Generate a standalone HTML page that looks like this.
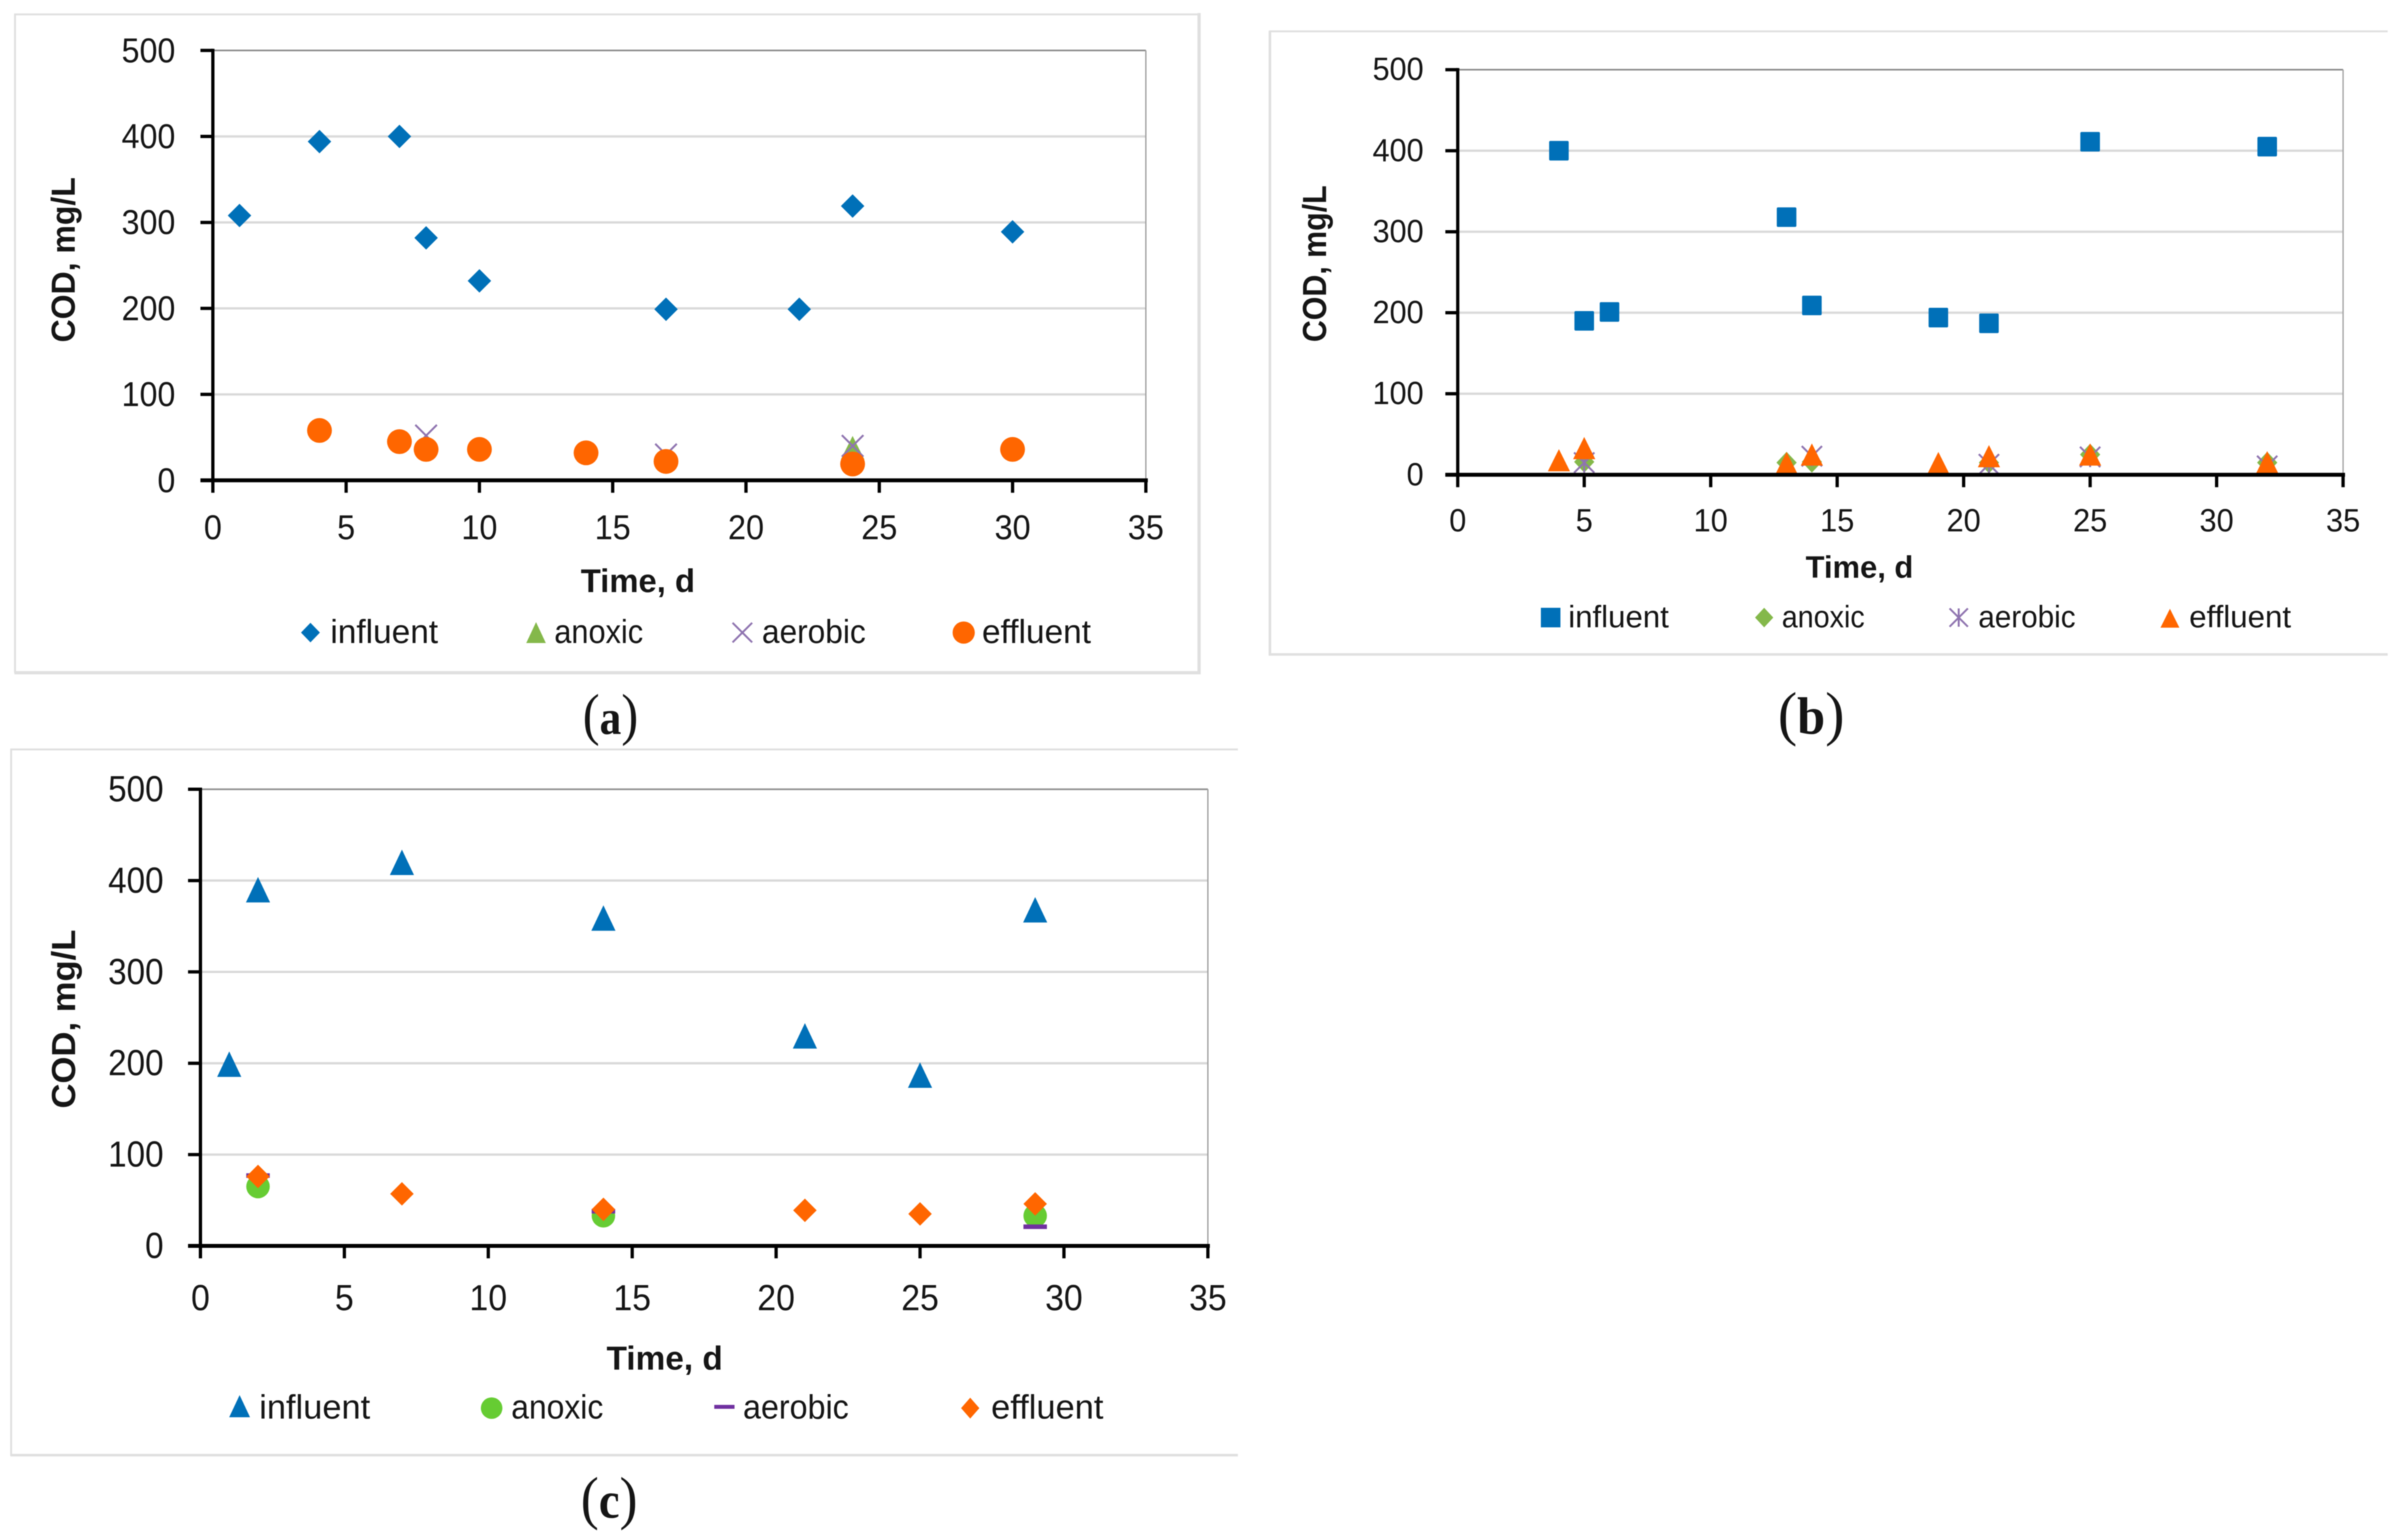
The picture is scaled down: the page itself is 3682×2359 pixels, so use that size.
<!DOCTYPE html>
<html lang="en">
<head>
<meta charset="utf-8">
<title>COD over time</title>
<style>
  html, body { margin: 0; padding: 0; background: #fff; }
  svg { display: block; filter: blur(0.7px); }
  text { font-family: "Liberation Sans", sans-serif; fill: #151515; }
  .cap { font-family: "Liberation Serif", serif; }
  .frame { fill: none; stroke: #e0e0e0; }
</style>
</head>
<body>
<svg id="root" xmlns="http://www.w3.org/2000/svg" width="3682" height="2359" viewBox="0 0 3682 2359">
  <rect x="0" y="0" width="3682" height="2359" fill="#ffffff"/>

  <!-- Panel frames -->
  <g>
    <line class="frame" x1="23" y1="21" x2="23" y2="1031" stroke-width="3"/>
    <line class="frame" x1="22" y1="22" x2="1838" y2="22" stroke-width="3"/>
    <line class="frame" x1="1836.5" y1="20" x2="1836.5" y2="1033" stroke-width="5"/>
    <line class="frame" x1="22" y1="1030.5" x2="1839" y2="1030.5" stroke-width="5"/>
  </g>
  <g>
    <line class="frame" x1="1945" y1="47" x2="1945" y2="1004" stroke-width="4"/>
    <line class="frame" x1="1944" y1="48" x2="3657" y2="48" stroke-width="3"/>
    <line class="frame" x1="1943" y1="1002.5" x2="3657" y2="1002.5" stroke-width="4"/>
  </g>
  <g>
    <line class="frame" x1="17" y1="1147" x2="17" y2="2230" stroke-width="3"/>
    <line class="frame" x1="16" y1="1148" x2="1896" y2="1148" stroke-width="3"/>
    <line class="frame" x1="16" y1="2229" x2="1896" y2="2229" stroke-width="4"/>
  </g>

  <g id="chart-a"></g>
  <g id="chart-b"></g>
  <g id="chart-c"></g>

  <!-- Axis titles -->
  <text x="977" y="907" text-anchor="middle" font-size="50" font-weight="700" textLength="175" lengthAdjust="spacingAndGlyphs">Time, d</text>
  <text transform="translate(114.5 398) rotate(-90)" text-anchor="middle" font-size="51" font-weight="700" textLength="253" lengthAdjust="spacingAndGlyphs">COD, mg/L</text>
  <text x="2848" y="885" text-anchor="middle" font-size="47" font-weight="700" textLength="165" lengthAdjust="spacingAndGlyphs">Time, d</text>
  <text transform="translate(2031 404) rotate(-90)" text-anchor="middle" font-size="51" font-weight="700" textLength="240" lengthAdjust="spacingAndGlyphs">COD, mg/L</text>
  <text x="1018" y="2098" text-anchor="middle" font-size="51" font-weight="700" textLength="178" lengthAdjust="spacingAndGlyphs">Time, d</text>
  <text transform="translate(115 1561) rotate(-90)" text-anchor="middle" font-size="51" font-weight="700" textLength="274" lengthAdjust="spacingAndGlyphs">COD, mg/L</text>

  <!-- Legend a -->
  <g>
    <g>
      <polygon points="475.5,954 490,969 475.5,984 461,969" fill="#0070b8"/>
      <text x="506" y="985" font-size="51" textLength="165" lengthAdjust="spacingAndGlyphs">influent</text>
    </g>
    <g>
      <polygon points="821,953 836,985 806,985" fill="#84b84a"/>
      <text x="849" y="985" font-size="51" textLength="136" lengthAdjust="spacingAndGlyphs">anoxic</text>
    </g>
    <g>
      <path d="M1122,954 L1152,984 M1152,954 L1122,984" stroke="#8f74b0" stroke-width="3" fill="none"/>
      <text x="1167" y="985" font-size="51" textLength="159" lengthAdjust="spacingAndGlyphs">aerobic</text>
    </g>
    <g>
      <circle cx="1476" cy="969" r="17" fill="#ff6600"/>
      <text x="1504" y="985" font-size="51" textLength="167" lengthAdjust="spacingAndGlyphs">effluent</text>
    </g>
  </g>

  <!-- Legend b -->
  <g>
    <g>
      <rect x="2360" y="931" width="30" height="30" fill="#0070b8"/>
      <text x="2402" y="961" font-size="47" textLength="154" lengthAdjust="spacingAndGlyphs">influent</text>
    </g>
    <g>
      <polygon points="2702,931 2716,946 2702,961 2688,946" fill="#84b84a"/>
      <text x="2729" y="961" font-size="47" textLength="127" lengthAdjust="spacingAndGlyphs">anoxic</text>
    </g>
    <g>
      <path d="M2986,932 L3014,960 M3014,932 L2986,960 M3000,932 L3000,960" stroke="#8f74b0" stroke-width="3" fill="none"/>
      <text x="3030" y="961" font-size="47" textLength="149" lengthAdjust="spacingAndGlyphs">aerobic</text>
    </g>
    <g>
      <polygon points="3323.5,932.5 3338,961.5 3309,961.5" fill="#ff6600"/>
      <text x="3353" y="961" font-size="47" textLength="156" lengthAdjust="spacingAndGlyphs">effluent</text>
    </g>
  </g>

  <!-- Legend c -->
  <g>
    <g>
      <polygon points="367,2137 383,2171 351,2171" fill="#0070b8"/>
      <text x="397" y="2173" font-size="52" textLength="170" lengthAdjust="spacingAndGlyphs">influent</text>
    </g>
    <g>
      <circle cx="753" cy="2157" r="16.5" fill="#66cc33"/>
      <text x="783" y="2173" font-size="52" textLength="141" lengthAdjust="spacingAndGlyphs">anoxic</text>
    </g>
    <g>
      <rect x="1094" y="2152" width="31" height="6" fill="#7030a0"/>
      <text x="1138" y="2173" font-size="52" textLength="162" lengthAdjust="spacingAndGlyphs">aerobic</text>
    </g>
    <g>
      <polygon points="1486,2141 1500,2157 1486,2173 1472,2157" fill="#ff6600"/>
      <text x="1518" y="2173" font-size="52" textLength="172" lengthAdjust="spacingAndGlyphs">effluent</text>
    </g>
  </g>

  <!-- Captions -->
  <text class="cap" x="935" y="1124" text-anchor="middle" font-size="88" textLength="85" lengthAdjust="spacingAndGlyphs">(<tspan font-size="75" font-weight="700">a</tspan>)</text>
  <text class="cap" x="2774" y="1124" text-anchor="middle" font-size="92" textLength="102" lengthAdjust="spacingAndGlyphs">(<tspan font-size="80" font-weight="700">b</tspan>)</text>
  <text class="cap" x="933" y="2325" text-anchor="middle" font-size="90" textLength="87" lengthAdjust="spacingAndGlyphs">(<tspan font-size="78" font-weight="700">c</tspan>)</text>
</svg>

<script>
// Shared axis tick labels
const xTickLabels = [0, 5, 10, 15, 20, 25, 30, 35];
const yTickLabels = [0, 100, 200, 300, 400, 500];

// Panel (a) data: day, COD mg/L
const aInfluentDays = [1, 4, 7, 8, 10, 17, 22, 24, 30];
const aInfluentCod = [308, 394, 400, 282, 232, 199, 199, 319, 289];
const aAnoxicDays = [24];
const aAnoxicCod = [38];
const aAerobicDays = [8, 17, 24];
const aAerobicCod = [52, 30, 40];
const aEffluentDays = [4, 7, 8, 10, 14, 17, 24, 30];
const aEffluentCod = [58, 45, 36, 36, 32, 22, 19, 36];

// Panel (b) data
const bInfluentDays = [4, 5, 6, 13, 14, 19, 21, 25, 32];
const bInfluentCod = [400, 190, 201, 318, 209, 194, 187, 411, 405];
const bAnoxicDays = [5, 13, 14, 21, 25, 32];
const bAnoxicCod = [16, 15, 16, 15, 25, 15];
const bAerobicDays = [5, 14, 21, 25, 32];
const bAerobicCod = [15, 23, 13, 22, 11];
const bEffluentDays = [4, 5, 13, 14, 19, 21, 25, 32];
const bEffluentCod = [18, 33, 14.5, 25, 14.5, 23, 25, 15.5];

// Panel (c) data
const cInfluentDays = [1, 2, 7, 14, 21, 25, 29];
const cInfluentCod = [199, 390, 420, 359, 230, 187, 368];
const cAnoxicDays = [2, 14, 29];
const cAnoxicCod = [65, 33, 33];
const cAerobicDays = [2, 14, 29];
const cAerobicCod = [77, 38, 21];
const cEffluentDays = [2, 7, 14, 21, 25, 29];
const cEffluentCod = [76, 57, 40, 39, 35, 46];

const SVGNS = 'http://www.w3.org/2000/svg';

function mk(parent, tag, attrs, name) {
  const el = document.createElementNS(SVGNS, tag);
  for (const k in attrs) el.setAttribute(k, attrs[k]);
  
  
  parent.appendChild(el);
  return el;
}

function drawDiamond(g, x, y, o, name) {
  const r = o.r, ry = o.ry || o.r;
  mk(g, 'polygon', { points: (x) + ',' + (y - ry) + ' ' + (x + r) + ',' + y + ' ' + x + ',' + (y + ry) + ' ' + (x - r) + ',' + y, fill: o.color }, name);
}
function drawSquare(g, x, y, o, name) {
  mk(g, 'rect', { x: x - o.r, y: y - o.r, width: 2 * o.r, height: 2 * o.r, rx: 2, fill: o.color }, name);
}
function drawTriangle(g, x, y, o, name) {
  const hw = o.w / 2, hh = o.h / 2;
  mk(g, 'polygon', { points: x + ',' + (y - hh) + ' ' + (x + hw) + ',' + (y + hh) + ' ' + (x - hw) + ',' + (y + hh), fill: o.color }, name);
}
function drawCircle(g, x, y, o, name) {
  mk(g, 'circle', { cx: x, cy: y, r: o.r, fill: o.color }, name);
}
function drawCross(g, x, y, o, name) {
  const r = o.r;
  mk(g, 'path', { d: 'M' + (x - r) + ',' + (y - r) + ' L' + (x + r) + ',' + (y + r) + ' M' + (x + r) + ',' + (y - r) + ' L' + (x - r) + ',' + (y + r), stroke: o.color, 'stroke-width': 3, fill: 'none' }, name);
}
function drawStar(g, x, y, o, name) {
  const r = o.r;
  mk(g, 'path', { d: 'M' + (x - r) + ',' + (y - r) + ' L' + (x + r) + ',' + (y + r) + ' M' + (x + r) + ',' + (y - r) + ' L' + (x - r) + ',' + (y + r) + ' M' + x + ',' + (y - r) + ' L' + x + ',' + (y + r), stroke: o.color, 'stroke-width': 3, fill: 'none' }, name);
}
function drawDash(g, x, y, o, name) {
  mk(g, 'rect', { x: x - o.r, y: y - 3.5, width: 2 * o.r, height: 7, fill: o.color }, name);
}

function drawChart(rootId, L, series) {
  const root = document.getElementById(rootId);
  const sx = function (v) { return L.x0 + (v / 35) * (L.x35 - L.x0); };
  const sy = function (v) { return L.y0 + (v / 500) * (L.y500 - L.y0); };

  yTickLabels.forEach(function (t) {
    if (t === 0) return;
    mk(root, 'line', { x1: L.x0, x2: L.x35, y1: sy(t), y2: sy(t), stroke: t === 500 ? '#8c8c8c' : '#d9d9d9', 'stroke-width': t === 500 ? 2.5 : 3.5 }, t === 500 ? 'plot-top-border' : 'gridline-' + t);
  });
  mk(root, 'line', { x1: L.x35, x2: L.x35, y1: L.y500, y2: L.y0, stroke: '#a0a0a0', 'stroke-width': 2 }, 'plot-right-border');

  series.forEach(function (s) {
    const g = mk(root, 'g', {}, 'series-' + s.name);
    s.days.forEach(function (d, i) {
      s.draw(g, sx(d), sy(s.cod[i]), s.opts, 'point-' + s.name);
    });
  });

  mk(root, 'line', { x1: L.x0, x2: L.x0, y1: L.y500 - 2.5, y2: L.y0 + 3, stroke: '#000', 'stroke-width': 5 }, 'y-axis-line');
  mk(root, 'line', { x1: L.x0 - 19, x2: L.x35 + 3, y1: L.y0, y2: L.y0, stroke: '#000', 'stroke-width': 6 }, 'x-axis-line');

  yTickLabels.forEach(function (t) {
    mk(root, 'line', { x1: L.x0 - 19, x2: L.x0, y1: sy(t), y2: sy(t), stroke: '#000', 'stroke-width': 5 }, 'y-tick-' + t);
    const label = mk(root, 'text', { x: L.yLabelRight, y: sy(t) + L.yLabelDrop, 'text-anchor': 'end', 'font-size': L.fontY, textLength: String(t).length * L.yDigit, lengthAdjust: 'spacingAndGlyphs' }, 'y-tick-label-' + t);
    label.textContent = String(t);
  });
  xTickLabels.forEach(function (t) {
    mk(root, 'line', { x1: sx(t), x2: sx(t), y1: L.y0, y2: L.y0 + 19, stroke: '#000', 'stroke-width': 5 }, 'x-tick-' + t);
    const label = mk(root, 'text', { x: sx(t), y: L.xLabelBase, 'text-anchor': 'middle', 'font-size': L.fontX, textLength: String(t).length * L.xDigit, lengthAdjust: 'spacingAndGlyphs' }, 'x-tick-label-' + t);
    label.textContent = String(t);
  });
}

const BLUE = '#0070b8', ORANGE = '#ff6600', GREEN = '#84b84a', PURPLE = '#8f74b0';

drawChart('chart-a',
  { x0: 326, x35: 1755, y0: 735.8, y500: 77.3, yLabelRight: 268.5, yLabelDrop: 18, fontY: 53, fontX: 53, yDigit: 27.4, xDigit: 27.6, xLabelBase: 826 },
  [
    { name: 'influent', days: aInfluentDays, cod: aInfluentCod, draw: drawDiamond, opts: { r: 18, color: BLUE } },
    { name: 'anoxic', days: aAnoxicDays, cod: aAnoxicCod, draw: drawTriangle, opts: { w: 36, h: 36, color: GREEN } },
    { name: 'aerobic', days: aAerobicDays, cod: aAerobicCod, draw: drawCross, opts: { r: 16.5, color: PURPLE } },
    { name: 'effluent', days: aEffluentDays, cod: aEffluentCod, draw: drawCircle, opts: { r: 19, color: ORANGE } }
  ]);

drawChart('chart-b',
  { x0: 2232.7, x35: 3588.7, y0: 727.3, y500: 106.7, yLabelRight: 2180.5, yLabelDrop: 16, fontY: 49, fontX: 49, yDigit: 26.1, xDigit: 26.2, xLabelBase: 814 },
  [
    { name: 'influent', days: bInfluentDays, cod: bInfluentCod, draw: drawSquare, opts: { r: 15, color: BLUE } },
    { name: 'anoxic', days: bAnoxicDays, cod: bAnoxicCod, draw: drawDiamond, opts: { r: 15.5, ry: 16.5, color: GREEN } },
    { name: 'aerobic', days: bAerobicDays, cod: bAerobicCod, draw: drawStar, opts: { r: 15.5, color: PURPLE } },
    { name: 'effluent', days: bEffluentDays, cod: bEffluentCod, draw: drawTriangle, opts: { w: 34, h: 34, color: ORANGE } }
  ]);

drawChart('chart-c',
  { x0: 307, x35: 1850, y0: 1908.5, y500: 1209, yLabelRight: 250.5, yLabelDrop: 18.5, fontY: 56, fontX: 56, yDigit: 28.3, xDigit: 28.8, xLabelBase: 2007 },
  [
    { name: 'influent', days: cInfluentDays, cod: cInfluentCod, draw: drawTriangle, opts: { w: 37, h: 39, color: BLUE } },
    { name: 'anoxic', days: cAnoxicDays, cod: cAnoxicCod, draw: drawCircle, opts: { r: 18, color: '#66cc33' } },
    { name: 'aerobic', days: cAerobicDays, cod: cAerobicCod, draw: drawDash, opts: { r: 18, color: '#7030a0' } },
    { name: 'effluent', days: cEffluentDays, cod: cEffluentCod, draw: drawDiamond, opts: { r: 18, color: ORANGE } }
  ]);
</script>
</body>
</html>
